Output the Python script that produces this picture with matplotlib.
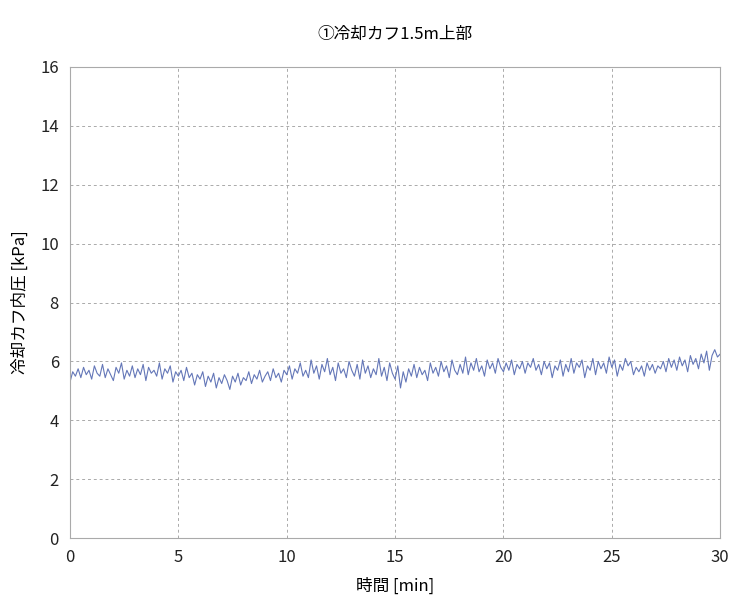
import matplotlib
matplotlib.use('Agg')
import matplotlib.pyplot as plt
import numpy as np

plt.rcParams['font.family'] = ['Noto Sans CJK JP', 'DejaVu Sans']

pressure = [
    5.30, 5.65, 5.50, 5.75, 5.45, 5.80, 5.55, 5.70,
    5.40, 5.85, 5.60, 5.50, 5.90, 5.45, 5.75, 5.55,
    5.35, 5.80, 5.60, 5.95, 5.40, 5.70, 5.50, 5.85,
    5.45, 5.75, 5.55, 5.90, 5.35, 5.80, 5.60, 5.70,
    5.50, 5.95, 5.40, 5.75, 5.60, 5.85, 5.30, 5.65,
    5.50, 5.70, 5.35, 5.80, 5.45, 5.60, 5.20, 5.55,
    5.40, 5.65, 5.15, 5.50, 5.30, 5.60, 5.10, 5.45,
    5.25, 5.55, 5.35, 5.05, 5.50, 5.30, 5.60, 5.20,
    5.45, 5.35, 5.65, 5.25, 5.55, 5.40, 5.70, 5.30,
    5.50, 5.65, 5.35, 5.75, 5.45, 5.60, 5.30, 5.70,
    5.55, 5.85, 5.40, 5.75, 5.60, 5.95, 5.50, 5.70,
    5.45, 6.05, 5.60, 5.85, 5.40, 5.90, 5.65, 6.10,
    5.55, 5.80, 5.35, 5.95, 5.60, 5.75, 5.45, 6.00,
    5.70, 5.50, 5.90, 5.40, 6.05, 5.60, 5.85, 5.45,
    5.75, 5.55, 6.10, 5.50, 5.80, 5.35, 5.95, 5.60,
    5.40, 5.85, 5.10, 5.65, 5.30, 5.75, 5.50, 5.90,
    5.45, 5.80, 5.55, 5.70, 5.35, 5.95, 5.60, 5.80,
    5.50, 6.00, 5.65, 5.85, 5.45, 6.05, 5.70, 5.55,
    5.90, 5.60, 6.15, 5.55, 5.95, 5.70, 6.10, 5.65,
    5.85, 5.50, 6.05, 5.75, 5.95, 5.60, 6.10, 5.80,
    5.65, 5.95, 5.70, 6.05, 5.55, 5.90, 5.75, 6.00,
    5.60, 5.95, 5.80, 6.10, 5.70, 5.90, 5.55, 6.00,
    5.75, 5.95, 5.45, 5.85, 5.70, 6.05, 5.50, 5.90,
    5.65, 6.10, 5.60, 5.95, 5.80, 6.05, 5.45, 5.85,
    5.70, 6.10, 5.55, 6.00, 5.75, 5.95, 5.60, 6.15,
    5.80, 6.05, 5.50, 5.90, 5.70, 6.10, 5.85, 6.00,
    5.55, 5.80, 5.65, 5.85, 5.50, 5.95, 5.70, 5.90,
    5.60, 5.85, 5.75, 6.00, 5.65, 6.10, 5.80, 6.05,
    5.70, 6.15, 5.85, 6.05, 5.65, 6.20, 5.90, 6.10,
    5.75, 6.25, 5.95, 6.35, 5.70, 6.20, 6.40, 6.15,
    6.25,
]
time_min = np.linspace(0, 30, len(pressure))

fig = plt.figure(figsize=(7.33, 6.13), dpi=100)
ax = fig.add_axes([0.0955, 0.122, 0.887, 0.769])

ax.plot(time_min, pressure, color='#6477b8', linewidth=0.8)

ax.set_xlim(0, 30)
ax.set_ylim(0, 16)
ax.set_xticks(np.arange(0, 31, 5))
ax.set_yticks(np.arange(0, 17, 2))
ax.grid(True, color='#aaaaaa', linestyle=(0, (3, 3)), linewidth=0.7)
ax.tick_params(axis='both', length=0, labelsize=12, pad=8, colors='#222222')

for s in ax.spines.values():
    s.set_color('#aaaaaa')
    s.set_linewidth(0.8)

ax.set_title('①冷却カフ1.5m上部', fontsize=12, pad=20)
ax.set_xlabel('時間 [min]', fontsize=12, labelpad=8)
ax.set_ylabel('冷却カフ内圧 [kPa]', fontsize=12, labelpad=8)

plt.savefig('out.png', dpi=100)
